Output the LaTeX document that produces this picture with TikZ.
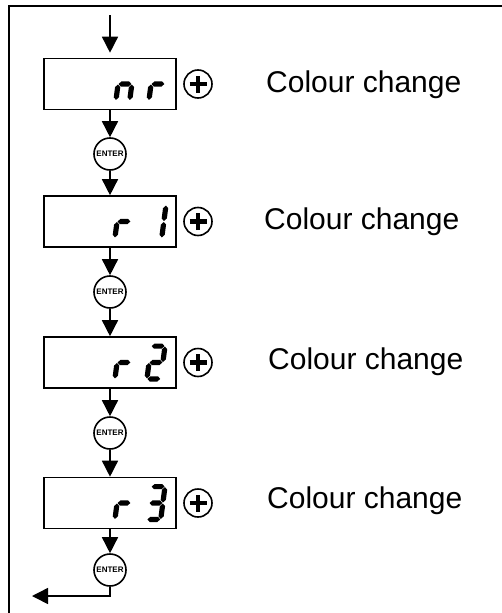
\documentclass[tikz,border=0pt]{standalone}
\usepackage{fontspec}
\setmainfont{Liberation Sans}
\usetikzlibrary{arrows.meta}
% seven-segment pieces (local units: pt, y up)
\def\segpa{\fill (3.1,35.4)--(5.7,38)--(13.3,38)--(15.9,35.4)--(13.3,32.8)--(5.7,32.8)--cycle;}
\def\segpg{\fill (3.1,19)--(5.7,21.6)--(13.3,21.6)--(15.9,19)--(13.3,16.4)--(5.7,16.4)--cycle;}
\def\segpd{\fill (3.1,2.6)--(5.7,5.2)--(13.3,5.2)--(15.9,2.6)--(13.3,0)--(5.7,0)--cycle;}
\def\segpf{\fill (2.6,19.5)--(5.2,22.1)--(5.2,32.3)--(2.6,34.9)--(0,32.3)--(0,22.1)--cycle;}
\def\segpe{\fill (2.6,3.1)--(5.2,5.7)--(5.2,15.9)--(2.6,18.5)--(0,15.9)--(0,5.7)--cycle;}
\def\segpb{\fill (16.4,19.5)--(19,22.1)--(19,32.3)--(16.4,34.9)--(13.8,32.3)--(13.8,22.1)--cycle;}
\def\segpc{\fill (16.4,3.1)--(19,5.7)--(19,15.9)--(16.4,18.5)--(13.8,15.9)--(13.8,5.7)--cycle;}
\newcommand\sevseg[3]{%
  \begin{scope}[shift={(#1,#2)},y=1pt,xslant=0.13]
    \foreach \s in {#3}{\csname segp\s\endcsname}
  \end{scope}}
\begin{document}
\begin{tikzpicture}[x=1pt,y=-1pt,
  disp/.style={draw, line width=1.6pt, minimum width=132pt, minimum height=51pt, inner sep=0pt},
  enter/.style={draw, circle, line width=1.6pt, minimum size=32pt, inner sep=0pt,
    font=\fontsize{8}{9}\selectfont\bfseries},
  plusc/.style={draw, circle, line width=1.6pt, minimum size=28pt, inner sep=0pt},
  lbl/.style={anchor=base west, font=\fontsize{30}{36}\selectfont, inner sep=0pt},
  flow/.style={line width=1.5pt, -{Triangle[length=16pt,width=16pt]}},
  plusbar/.style={line width=4.2pt}]
\useasboundingbox (0,0) rectangle (502,613);
% frame (cut off at right and bottom)
\draw[line width=2pt] (503,6) -- (9,6) -- (9,614);

% display boxes
\node[disp] (b1) at (110,84) {};
\node[disp] (b2) at (110,221.5) {};
\node[disp] (b3) at (110,362.5) {};
\node[disp] (b4) at (110,503) {};

% enter buttons
\node[enter] (e1) at (110,154) {ENTER};
\node[enter] (e2) at (110,292) {ENTER};
\node[enter] (e3) at (110,433) {ENTER};
\node[enter] (e4) at (110,570) {ENTER};

% plus buttons
\foreach \n/\y in {p1/84,p2/221.5,p3/362.5,p4/503}{
  \node[plusc] (\n) at (198,\y) {};
  \draw[plusbar] ([xshift=-8.5pt]\n.center) -- ([xshift=8.5pt]\n.center);
  \draw[plusbar] ([yshift=-8.5pt]\n.center) -- ([yshift=8.5pt]\n.center);
}

% labels
\node[lbl] (l1) at (266,92) {Colour change};
\node[lbl] (l2) at (264,229) {Colour change};
\node[lbl] (l3) at (268,369) {Colour change};
\node[lbl] (l4) at (267,508) {Colour change};

% display digits
\sevseg{113}{103}{e,g,c}
\sevseg{146}{103}{e,g}
\sevseg{112}{240.5}{e,g}
\sevseg{145}{240.5}{b,c}
\sevseg{112}{381.5}{e,g}
\sevseg{144}{381.5}{a,b,g,e,d}
\sevseg{112}{522}{e,g}
\sevseg{144}{522}{a,b,g,c,d}

% connectors
\coordinate (in) at (110,15);
\coordinate (out) at (32,596);
\draw[flow, shorten >=5pt] (in) -- (b1);
\draw[flow] (b1) -- (e1);
\draw[flow] (e1) -- (b2);
\draw[flow] (b2) -- (e2);
\draw[flow] (e2) -- (b3);
\draw[flow] (b3) -- (e3);
\draw[flow] (e3) -- (b4);
\draw[flow] (b4) -- (e4);
\draw[flow] (e4.south) |- (out);
\end{tikzpicture}
\end{document}
